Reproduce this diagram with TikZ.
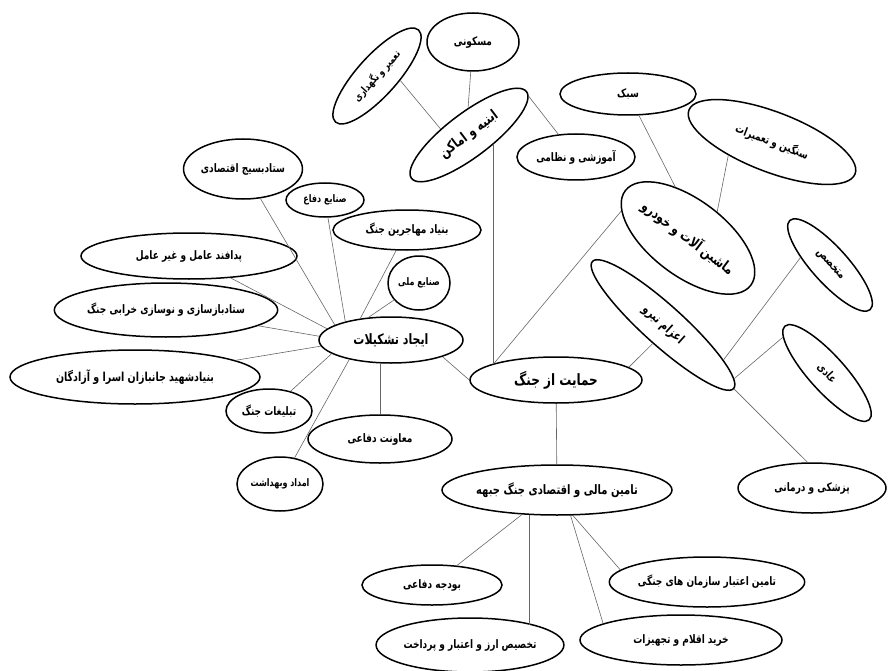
\documentclass[tikz,border=0pt]{standalone}
\usepackage{graphicx}
\usepackage{fontspec}
\newfontfamily\arabicfont[Script=Arabic]{DejaVu Sans}
\TeXXeTstate=1
\usetikzlibrary{shapes.geometric}
\newcommand\fasz[1]{\arabicfont\bfseries\fontsize{#1}{#1}\selectfont}
\begin{document}
\begin{tikzpicture}[x=1pt,y=-1pt,
  bub/.style={ellipse, draw=black, line width=1.5pt, inner sep=0pt, align=center},
  link/.style={draw=black!60, line width=0.6pt}]
\useasboundingbox (0,0) rectangle (888,671);
% centre
\node[bub, minimum width=172pt, minimum height=46pt] (hamayat) at (556,380) {\fasz{12}\scalebox{1}[1.3]{\beginR حمایت از جنگ\endR}};
% buildings
\node[bub, rotate=37, minimum width=144pt, minimum height=44pt] (abnieh) at (469,135) {\fasz{11}\scalebox{1}[1.3]{\beginR ابنیه و اماکن\endR}};
\node[bub, rotate=48, minimum width=124pt, minimum height=40pt] (tamir) at (377,76) {\fasz{8}\scalebox{1}[1.3]{\beginR تعمیر و نگهداری\endR}};
\node[bub, minimum width=92pt, minimum height=58pt] (maskuni) at (473,42) {\fasz{9}\scalebox{1}[1.3]{\beginR مسکونی\endR}};
\node[bub, minimum width=118pt, minimum height=46pt] (amuzeshi) at (576,157) {\fasz{9}\scalebox{1}[1.3]{\beginR آموزشی و نظامی\endR}};
% machines
\node[bub, minimum width=136pt, minimum height=42pt] (sabok) at (628,94) {\fasz{9}\scalebox{1}[1.3]{\beginR سبک\endR}};
\node[bub, rotate=-21, minimum width=178pt, minimum height=60pt] (sangin) at (772,142) {\fasz{9}\scalebox{1}[1.3]{\beginR سنگین و تعمیرات\endR}};
\node[bub, rotate=-37, minimum width=152pt, minimum height=76pt] (mashin) at (688,238) {\fasz{11}\scalebox{1}[1.3]{\beginR ماشین آلات و خودرو\endR}};
% forces
\node[bub, rotate=-42, minimum width=190pt, minimum height=40pt] (ezam) at (663,325) {\fasz{10}\scalebox{1}[1.3]{\beginR اعزام نیرو\endR}};
\node[bub, rotate=-48, minimum width=120pt, minimum height=36pt] (motakhases) at (830,265) {\fasz{9}\scalebox{1}[1.3]{\beginR متخصص\endR}};
\node[bub, rotate=-48, minimum width=126pt, minimum height=36pt] (adi) at (827,373) {\fasz{9}\scalebox{1}[1.3]{\beginR عادی\endR}};
\node[bub, minimum width=148pt, minimum height=50pt] (pezeshki) at (812,488) {\fasz{9}\scalebox{1}[1.3]{\beginR پزشکی و درمانی\endR}};
% finance
\node[bub, minimum width=230pt, minimum height=50pt] (tamin) at (557,490) {\fasz{10}\scalebox{1}[1.3]{\beginR تامین مالی و اقتصادی جنگ جبهه\endR}};
\node[bub, minimum width=140pt, minimum height=40pt] (bodje) at (432,585) {\fasz{9}\scalebox{1}[1.3]{\beginR بودجه دفاعی\endR}};
\node[bub, minimum width=160pt, minimum height=54pt] (takhsis) at (470,645) {\fasz{9}\scalebox{1}[1.3]{\beginR تخصیص ارز و اعتبار و پرداخت\endR}};
\node[bub, minimum width=202pt, minimum height=50pt] (kharid) at (681,640) {\fasz{9}\scalebox{1}[1.3]{\beginR خرید اقلام و تجهیزات\endR}};
\node[bub, minimum width=170pt, minimum height=50pt] (etebar) at (707,582) {\fasz{9}\scalebox{1}[1.3]{\beginR تامین اعتبار سازمان های جنگی\endR}};
% organisations
\node[bub, minimum width=144pt, minimum height=46pt] (ijad) at (391,340) {\fasz{11}\scalebox{1}[1.3]{\beginR ایجاد تشکیلات\endR}};
\node[bub, minimum width=100pt, minimum height=60pt] (basij) at (243,169) {\fasz{9}\scalebox{1}[1.3]{\beginR ستادبسیج اقتصادی\endR}};
\node[bub, minimum width=78pt, minimum height=34pt] (sdefa) at (325,200) {\fasz{8}\scalebox{1}[1.3]{\beginR صنایع دفاع\endR}};
\node[bub, minimum width=148pt, minimum height=40pt] (mohajerin) at (407,230) {\fasz{9}\scalebox{1}[1.3]{\beginR بنیاد مهاجرین جنگ\endR}};
\node[bub, minimum width=62pt, minimum height=54pt] (smelli) at (419,283) {\fasz{8}\scalebox{1}[1.3]{\beginR صنایع ملی\endR}};
\node[bub, minimum width=216pt, minimum height=46pt] (padafand) at (189,256) {\fasz{9}\scalebox{1}[1.3]{\beginR پدافند عامل و غیر عامل\endR}};
\node[bub, minimum width=222pt, minimum height=54pt] (bazsazi) at (166,310) {\fasz{9}\scalebox{1}[1.3]{\beginR ستادبازسازی و نوسازی خرابی جنگ\endR}};
\node[bub, minimum width=250pt, minimum height=54pt] (shahid) at (135,377) {\fasz{9.5}\scalebox{1}[1.3]{\beginR بنیادشهید جانبازان اسرا و آزادگان\endR}};
\node[bub, minimum width=86pt, minimum height=44pt] (tablighat) at (269,411) {\fasz{9}\scalebox{1}[1.3]{\beginR تبلیغات جنگ\endR}};
\node[bub, minimum width=144pt, minimum height=48pt] (moavenat) at (380,439) {\fasz{9}\scalebox{1}[1.3]{\beginR معاونت دفاعی\endR}};
\node[bub, minimum width=86pt, minimum height=54pt] (emdad) at (280,484) {\fasz{8}\scalebox{1}[1.3]{\beginR امداد وبهداشت\endR}};
% links from the centre
\draw[link] (abnieh.-60) -- (abnieh.-60 |- hamayat.165);
\draw[link] (hamayat.165) -- (mashin.195);
\draw[link] (hamayat.10) -- (ezam.-77);
\draw[link] (hamayat.180) -- (ijad.-18);
\draw[link] (hamayat) -- (tamin);
% buildings
\draw[link] (tamir.-59) -- (abnieh.131);
\draw[link] (maskuni) -- (abnieh.55);
\draw[link] (abnieh.-4) -- (amuzeshi);
% machines
\draw[link] (sabok) -- (mashin.141);
\draw[link] (sangin.218) -- (mashin.79);
% forces
\draw[link] (ezam.12) -- (motakhases.214);
\draw[link] (ezam.5) -- (adi.189);
\draw[link] (ezam.east) -- (pezeshki.100);
% finance
\draw[link] (tamin.215) -- (bodje);
\draw[link] (tamin.222) -- (tamin.222 |- takhsis.17);
\draw[link] (tamin.-62) -- (kharid.168);
\draw[link] (tamin.-58) -- (etebar.172);
% organisations
\draw[link] (ijad.165) -- (basij);
\draw[link] (ijad.158) -- (sdefa);
\draw[link] (ijad.145) -- (mohajerin);
\draw[link] (ijad.135) -- (smelli);
\draw[link] (ijad.170) -- (padafand);
\draw[link] (ijad.177) -- (bazsazi);
\draw[link] (ijad.185) -- (shahid);
\draw[link] (ijad.193) -- (tablighat);
\draw[link] (ijad.205) -- (emdad);
\draw[link] (moavenat.north) -- (moavenat.north |- ijad.south);
\end{tikzpicture}
\end{document}
